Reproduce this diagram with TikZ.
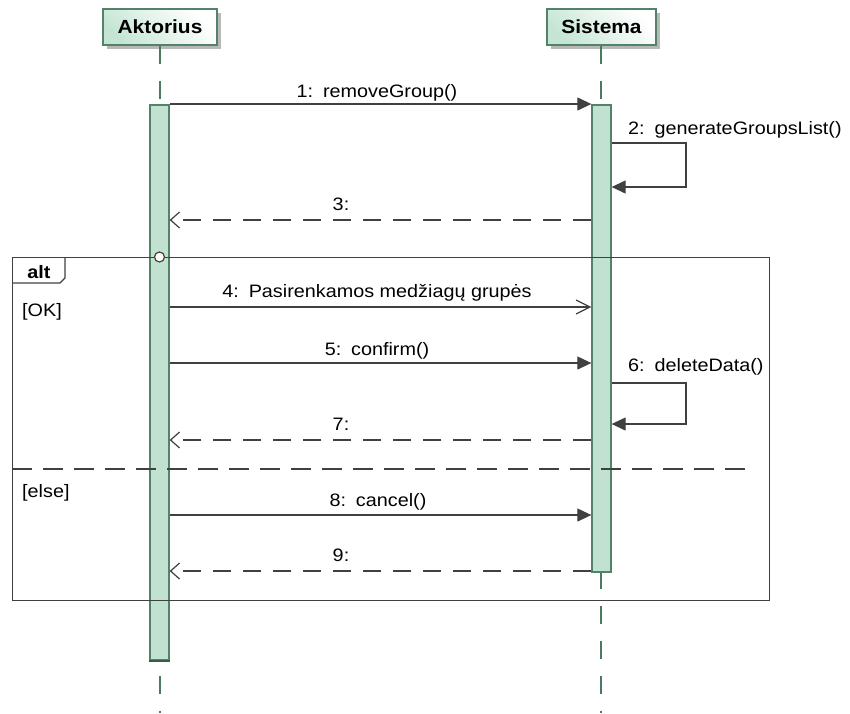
\documentclass[tikz,border=0pt]{standalone}
\usepackage{fontspec}
\setmainfont{Liberation Sans}[FakeStretch=1.1]
\usetikzlibrary{arrows.meta,shadows}

\definecolor{actfill}{RGB}{193,226,209}
\definecolor{actdraw}{RGB}{82,130,106}
\definecolor{lifecol}{RGB}{75,122,96}
\definecolor{msgcol}{RGB}{64,64,64}
\definecolor{headgreen}{RGB}{196,229,211}

\begin{document}
\begin{tikzpicture}[x=1pt,y=-1pt,
  every node/.style={font=\fontsize{18}{20}\selectfont, inner sep=0pt, text=black},
  headbox/.style={draw=actdraw, line width=1.3pt, top color=white, bottom color=headgreen,
    middle color=headgreen!45!white, shading angle=-45,
    font=\fontsize{19}{20}\selectfont\bfseries,
    drop shadow={shadow xshift=3.5pt, shadow yshift=-3.5pt, fill=black!28, opacity=1}},
  lifeline/.style={draw=lifecol, line width=1.3pt, dash pattern=on 18pt off 17pt},
  actbar/.style={draw=actdraw, fill=actfill, line width=1.3pt},
  sync/.style={draw=msgcol, line width=1.2pt, -{Triangle[length=14pt,width=13pt]}},
  async/.style={draw=msgcol, line width=1.2pt, -{Straight Barb[length=14pt,width=14pt]}},
  reply/.style={draw=msgcol, line width=1.2pt, dash pattern=on 18pt off 12pt,
    -{Straight Barb[length=9pt,width=16pt]}},
  frame/.style={draw=msgcol, line width=1.3pt},
  separator/.style={draw=msgcol, line width=1.3pt, dash pattern=on 20pt off 11pt},
  msglabel/.style={anchor=base},
  sidelabel/.style={anchor=base west}
]
\useasboundingbox (0,0) rectangle (850,713);

% lifeline heads
\node (akt) [headbox, minimum width=114pt, minimum height=36pt] at (160,27) {Aktorius};
\node (sis) [headbox, minimum width=109pt, minimum height=36pt] at (601.5,27) {Sistema};

% lifelines
\coordinate (aktEnd) at (160,713);
\coordinate (sisEnd) at (601,713);
\draw[lifeline] (akt.south) -- (aktEnd);
\draw[lifeline] (sis.south -| sisEnd) -- (sisEnd);

% activation bars
\node (actA) [actbar, minimum width=19pt, minimum height=555pt] at (159.5,382.5) {};
\node (actS) [actbar, minimum width=19pt, minimum height=467pt] at (601.5,338.5) {};
\draw[draw=actdraw!70!black, line width=2pt] (actA.south west) -- (actA.south east);

% combined fragment
\node (alt) [frame, minimum width=757pt, minimum height=343pt, anchor=north west] at (12,257) {};
\coordinate (tabA) at (12,283);
\coordinate (tabB) at (60,283);
\coordinate (tabC) at (65,278);
\coordinate (tabD) at (65,257);
\draw[frame] (tabA) -- (tabB) -- (tabC) -- (tabD);
\node (altlbl) [anchor=base, font=\fontsize{18}{20}\selectfont\bfseries] at (39,278) {alt};
\node (gate) [circle, draw=msgcol, fill=white, line width=1.2pt, minimum size=10pt] at (actA.center |- alt.north) {};
\node (g1) [sidelabel] at (22,316) {[OK]};
\coordinate (sepL) at (12,469);
\coordinate (sepR) at (752,469);
\draw[separator] (sepL) -- (sepR);
\node (g2) [sidelabel] at (22,497) {[else]};

% messages
\draw[sync] (actA.east |- 0,104) -- (actS.west |- 0,104);
\node (l1) [msglabel] at (377,97) {1:\hspace{0.55em}removeGroup()};

\coordinate (s2a) at (686,143);
\coordinate (s2b) at (686,187);
\draw[sync] (actS.east |- s2a) -- (s2a) -- (s2b) -- (actS.east |- s2b);
\node (l2) [sidelabel] at (628,134) {2:\hspace{0.55em}generateGroupsList()};

\draw[reply] (actS.west |- 0,220) -- (actA.east |- 0,220);
\node (l3) [msglabel] at (341,210) {3:};

\draw[async] (actA.east |- 0,307) -- (actS.west |- 0,307);
\node (l4) [msglabel] at (377,297) {4:\hspace{0.55em}Pasirenkamos medžiagų grupės};

\draw[sync] (actA.east |- 0,363) -- (actS.west |- 0,363);
\node (l5) [msglabel] at (377,355) {5:\hspace{0.55em}confirm()};

\coordinate (s6a) at (686,383);
\coordinate (s6b) at (686,424);
\draw[sync] (actS.east |- s6a) -- (s6a) -- (s6b) -- (actS.east |- s6b);
\node (l6) [sidelabel] at (628,371) {6:\hspace{0.55em}deleteData()};

\draw[reply] (actS.west |- 0,440) -- (actA.east |- 0,440);
\node (l7) [msglabel] at (341,430) {7:};

\draw[sync] (actA.east |- 0,515) -- (actS.west |- 0,515);
\node (l8) [msglabel] at (378,506) {8:\hspace{0.55em}cancel()};

\draw[reply] (actS.west |- 0,571) -- (actA.east |- 0,571);
\node (l9) [msglabel] at (341,561) {9:};
\end{tikzpicture}
\end{document}
